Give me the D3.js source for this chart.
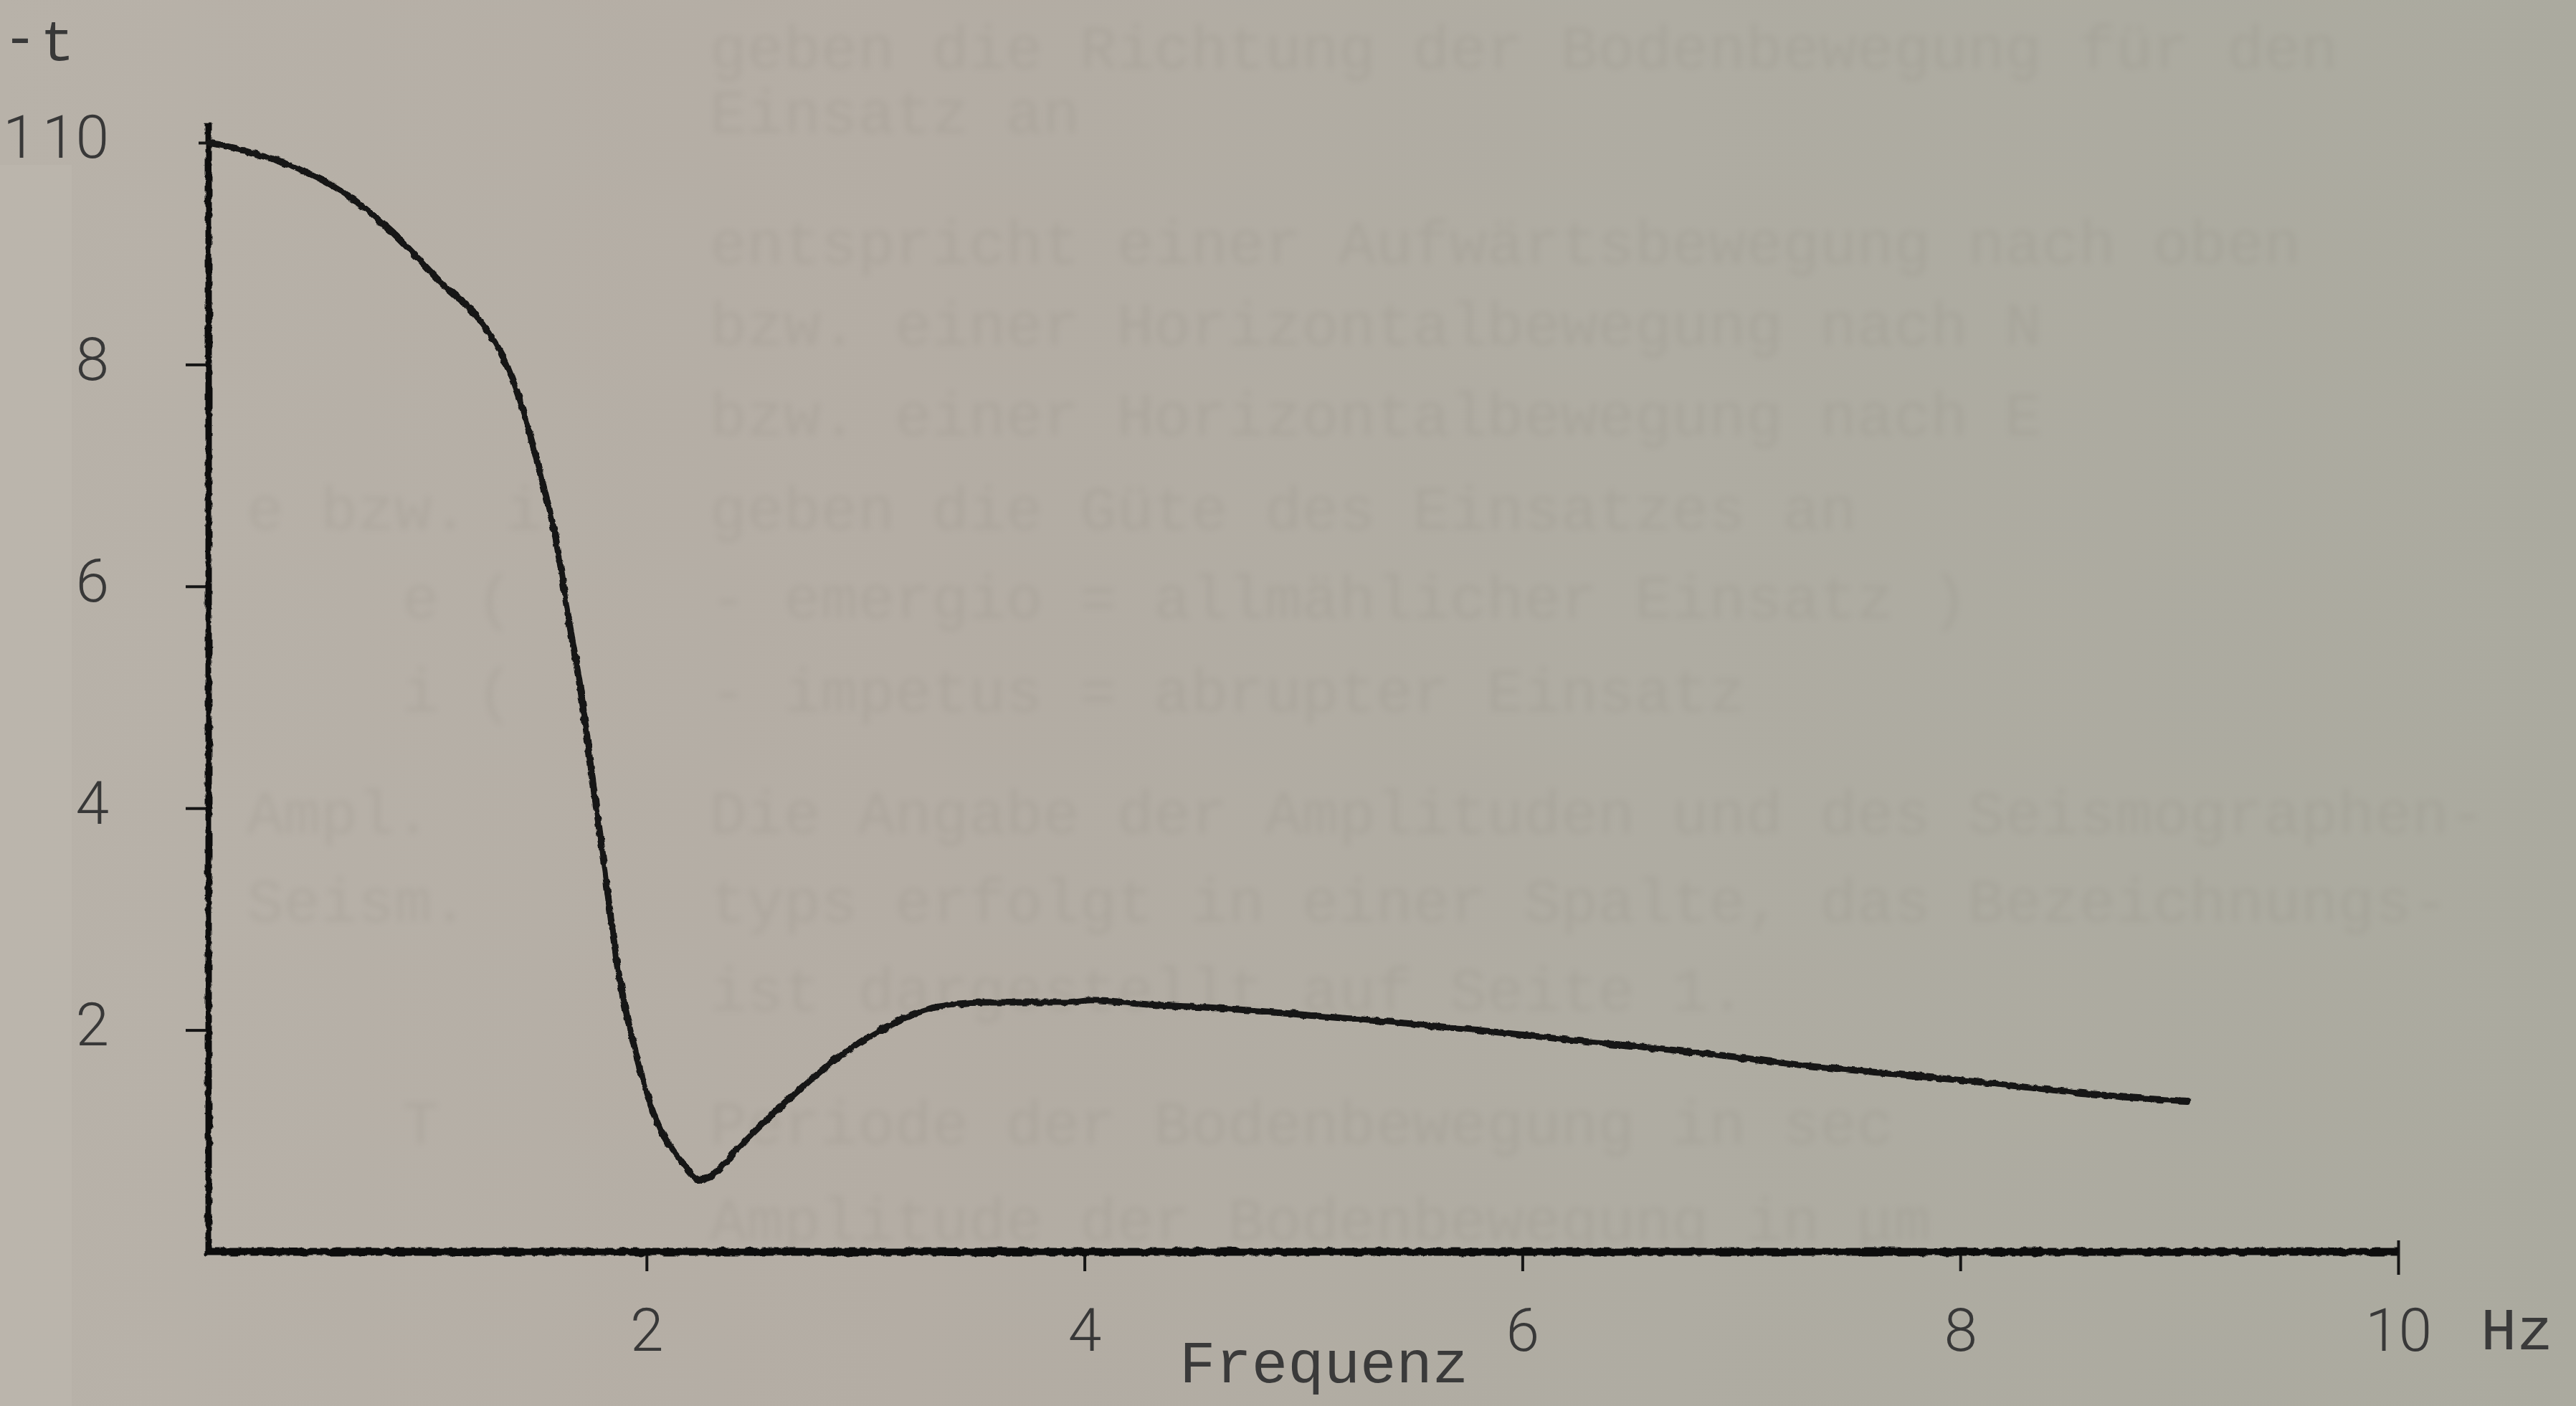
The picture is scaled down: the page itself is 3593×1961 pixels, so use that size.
<!DOCTYPE html>
<html>
<head>
<meta charset="utf-8">
<script src="https://cdnjs.cloudflare.com/ajax/libs/d3/7.8.5/d3.min.js"></script>
<style>
    body { margin: 0; overflow: hidden; background: #b3ada4; }
</style>
</head>
<body>
<div id="chart-area"></div>
<script>
/*
*   Frequenzgang - hand plotted response curve
*/

// curve (Hz / amplitude)
var freq = [0, 0.16, 0.39, 0.61, 0.84, 1.06, 1.25, 1.36, 1.44, 1.51, 1.59, 1.65, 1.70, 1.75, 1.81,
    1.87, 1.95, 2.04, 2.15, 2.25, 2.30, 2.41, 2.64, 2.86, 3.09, 3.31, 3.54, 3.91, 4.03, 4.29,
    4.67, 5.04, 5.42, 5.79, 6.17, 6.54, 6.92, 7.29, 7.67, 8.04, 8.42, 8.79, 9.04];
var ampl = [10.0, 9.93, 9.78, 9.56, 9.19, 8.74, 8.37, 8.0, 7.56, 7.05, 6.38, 5.64, 5.05, 4.31, 3.43,
    2.54, 1.80, 1.21, 0.84, 0.65, 0.69, 0.92, 1.36, 1.73, 2.02, 2.20, 2.25, 2.25, 2.27, 2.23,
    2.19, 2.13, 2.07, 2.00, 1.92, 1.85, 1.77, 1.68, 1.61, 1.54, 1.46, 1.39, 1.36];

var xTicks = [2, 4, 6, 8, 10];
var yTicks = [2, 4, 6, 8, 10];
var xTitle = "Frequenz";
var xUnit = "Hz";

// typed text of the page below, showing through the paper
var ghostText = [
    "geben die Richtung der Bodenbewegung für den",
    "Einsatz an",
    "entspricht einer Aufwärtsbewegung nach oben",
    "bzw. einer Horizontalbewegung nach N",
    "bzw. einer Horizontalbewegung nach E",
    "geben die Güte des Einsatzes an",
    "- emergio = allmählicher Einsatz )",
    "- impetus = abrupter Einsatz",
    "Die Angabe der Amplituden und des Seismographen-",
    "typs erfolgt in einer Spalte, das Bezeichnungs-",
    "ist dargestellt auf Seite 1.",
    "Periode der Bodenbewegung in sec",
    "Amplitude der Bodenbewegung in μm"
];
var ghostMargin = ["", "", "", "", "", "e bzw. i", "e (", "i (", "Ampl.", "Seism.", "", "T", ""];

// constructor function
FreqPlot = function(_parentElement, _svgWidth, _svgHeight) {
    this.parentElement = _parentElement;
    this.svgWidth = _svgWidth;
    this.svgHeight = _svgHeight;

    this.initVis();
}

FreqPlot.prototype.initVis = function() {
    var vis = this;

    vis.svg = d3.select(vis.parentElement).append("svg")
        .attr("width", vis.svgWidth).attr("height", vis.svgHeight);

    var defs = vis.svg.append("defs");
    var grad = defs.append("linearGradient").attr("id", "paper")
        .attr("x1", "0").attr("x2", "1").attr("y1", "0").attr("y2", "0");
    grad.append("stop").attr("offset", "0").attr("stop-color", "#b8b2a9");
    grad.append("stop").attr("offset", "0.35").attr("stop-color", "#b4ada4");
    grad.append("stop").attr("offset", "0.65").attr("stop-color", "#afaca2");
    grad.append("stop").attr("offset", "1").attr("stop-color", "#abaa9f");

    // rough pen stroke (user space region, so straight lines survive)
    var rough = defs.append("filter").attr("id", "rough")
        .attr("filterUnits", "userSpaceOnUse")
        .attr("x", 0).attr("y", 0).attr("width", vis.svgWidth).attr("height", vis.svgHeight);
    rough.append("feTurbulence").attr("type", "fractalNoise")
        .attr("baseFrequency", "0.09").attr("numOctaves", 2).attr("seed", 3).attr("result", "noise");
    rough.append("feDisplacementMap").attr("in", "SourceGraphic").attr("in2", "noise")
        .attr("scale", 6).attr("xChannelSelector", "R").attr("yChannelSelector", "G");

    var blur = defs.append("filter").attr("id", "soft")
        .attr("filterUnits", "userSpaceOnUse")
        .attr("x", 0).attr("y", 0).attr("width", vis.svgWidth).attr("height", vis.svgHeight);
    blur.append("feGaussianBlur").attr("stdDeviation", 4);

    vis.svg.append("rect").attr("width", vis.svgWidth).attr("height", vis.svgHeight)
        .attr("fill", "url(#paper)");
    vis.svg.append("rect").attr("x", 0).attr("y", 230).attr("width", 100).attr("height", vis.svgHeight - 230)
        .attr("fill", "#bdb8af").attr("opacity", 0.6);

    // ghost text
    var ghostY = [95, 185, 367, 481, 607, 738, 862, 992, 1162, 1285, 1409, 1595, 1730];
    var ghost = vis.svg.append("g").attr("class", "ghost")
        .attr("font-family", "'Liberation Mono', 'DejaVu Sans Mono', monospace")
        .attr("font-size", "86px")
        .attr("fill", "#7f796f").attr("opacity", 0.13)
        .attr("filter", "url(#soft)");
    ghost.selectAll("text.body").data(ghostText).enter().append("text")
        .attr("class", "body")
        .attr("x", 990)
        .attr("y", function(d, i) { return ghostY[i]; })
        .text(function(d) { return d; });
    ghost.selectAll("text.margin").data(ghostMargin).enter().append("text")
        .attr("class", "margin")
        .attr("x", function(d, i) { return (d.length <= 3) ? 561 : 344; })
        .attr("y", function(d, i) { return ghostY[i]; })
        .text(function(d) { return d; });

    vis.x = d3.scaleLinear().domain([0, 10]).range([291, 3345]);
    vis.y = d3.scaleLinear().domain([0, 10]).range([1746, 199]);

    vis.g = vis.svg.append("g");

    vis.updateVis();
}

FreqPlot.prototype.updateVis = function() {
    var vis = this;
    var labelFont = "Roboto, 'Open Sans', 'DejaVu Sans', sans-serif";
    var monoFont = "'Liberation Mono', 'DejaVu Sans Mono', monospace";

    // Y Axis
    vis.yAxisCall = d3.axisLeft(vis.y)
        .tickValues(yTicks)
        .tickSize(32)
        .tickSizeOuter(0)
        .tickFormat(d3.format("d"));
    vis.yAxis = vis.g.append("g")
        .attr("class", "y axis")
        .attr("transform", "translate(" + vis.x(0) + " 0)")
        .call(vis.yAxisCall);
    vis.yAxis.select(".domain").remove();
    vis.yAxis.selectAll(".tick line")
        .attr("stroke", "#151515").attr("stroke-width", 4)
        .attr("x2", function(d) { return d == 10 ? -14 : -32; });
    vis.yAxis.selectAll(".tick text")
        .attr("x", -139).attr("dy", "0.32em").attr("y", -6)
        .attr("font-family", labelFont).attr("font-weight", 300)
        .attr("font-size", "84px").attr("fill", "#383838");

    vis.g.append("line")
        .attr("x1", vis.x(0)).attr("x2", vis.x(0))
        .attr("y1", vis.y(0) + 4).attr("y2", vis.y(10.17))
        .attr("stroke", "#111").attr("stroke-width", 9)
        .attr("filter", "url(#rough)");

    // X Axis
    vis.xAxisCall = d3.axisBottom(vis.x)
        .tickValues(xTicks)
        .tickSize(27)
        .tickSizeOuter(0)
        .tickFormat(d3.format("d"));
    vis.xAxis = vis.g.append("g")
        .attr("class", "x axis")
        .attr("transform", "translate(0 " + vis.y(0) + ")")
        .call(vis.xAxisCall);
    vis.xAxis.select(".domain").remove();
    vis.xAxis.selectAll(".tick line")
        .attr("stroke", "#151515").attr("stroke-width", 4)
        .attr("y1", function(d) { return d == 10 ? -16 : 0; })
        .attr("y2", function(d) { return d == 10 ? 32 : 27; });
    vis.xAxis.selectAll(".tick text")
        .attr("y", 138).attr("dy", 0)
        .attr("font-family", labelFont).attr("font-weight", 300)
        .attr("font-size", "84px").attr("fill", "#383838");

    vis.g.append("line")
        .attr("x1", vis.x(0) - 4).attr("x2", vis.x(10))
        .attr("y1", vis.y(0)).attr("y2", vis.y(0))
        .attr("stroke", "#111").attr("stroke-width", 11)
        .attr("filter", "url(#rough)");

    // Axis names
    vis.g.append("text")
        .attr("x", 1645).attr("y", 1928)
        .attr("font-family", monoFont).attr("font-size", "84px").attr("fill", "#3a3a3a")
        .text(xTitle);
    vis.g.append("text")
        .attr("x", 3460).attr("y", 1882)
        .attr("font-family", monoFont).attr("font-size", "84px").attr("fill", "#3a3a3a")
        .text(xUnit);

    // stray marks at the page edge
    vis.g.append("text")
        .attr("x", 4).attr("y", 220).attr("text-anchor", "start")
        .attr("font-family", labelFont).attr("font-weight", 300)
        .attr("font-size", "84px").attr("fill", "#383838")
        .text("1");
    vis.g.append("text")
        .attr("x", 4).attr("y", 78).attr("text-anchor", "start")
        .attr("font-family", monoFont).attr("font-size", "80px").attr("fill", "#383838")
        .text("-");
    vis.g.append("text")
        .attr("x", 80).attr("y", 84).attr("text-anchor", "middle")
        .attr("font-family", monoFont).attr("font-size", "80px").attr("fill", "#383838")
        .text("t");

    // response curve
    vis.data = freq.map(function(f, i) { return {f: f, a: ampl[i]}; });
    vis.line = d3.line()
        .x(function(d) { return vis.x(d.f); })
        .y(function(d) { return vis.y(d.a); })
        .curve(d3.curveMonotoneX);

    vis.g.append("path")
        .datum(vis.data)
        .attr("class", "curve")
        .attr("d", vis.line)
        .attr("fill", "none")
        .attr("stroke", "#121212")
        .attr("stroke-width", 9)
        .attr("stroke-linejoin", "round")
        .attr("stroke-linecap", "round")
        .attr("filter", "url(#rough)");
}

var plot = new FreqPlot("#chart-area", 3593, 1961);
</script>
</body>
</html>
